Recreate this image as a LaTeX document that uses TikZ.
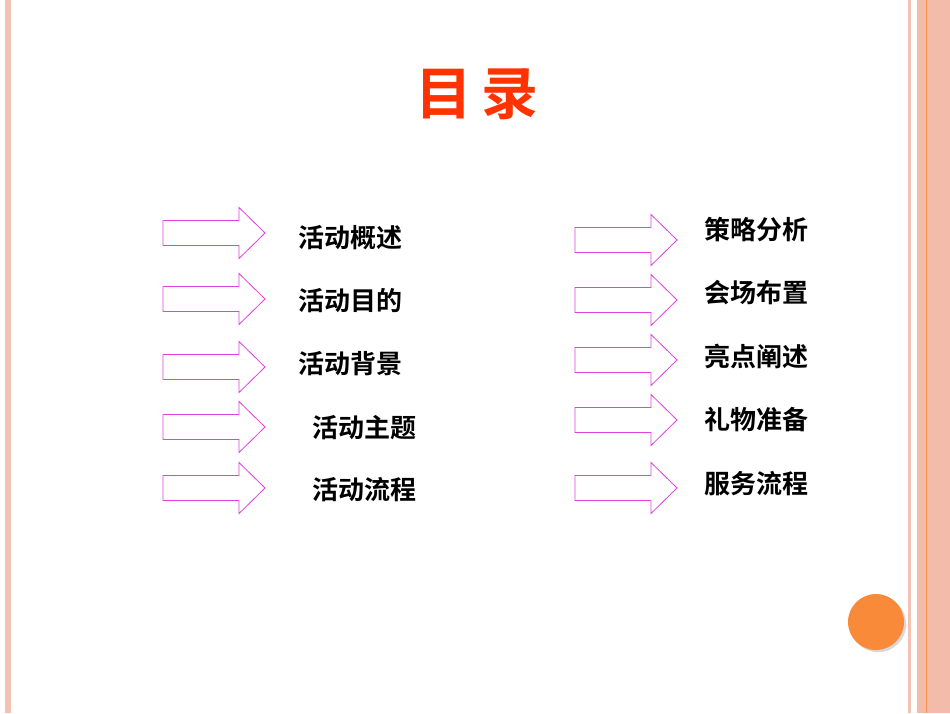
\documentclass[tikz,border=0pt]{standalone}
\usepackage{fontspec}
\newfontfamily\cjk{Noto Sans CJK SC Bold}
\usetikzlibrary{shadows}
\definecolor{stripe}{HTML}{F2BBAA}
\definecolor{mag}{HTML}{E040E0}
\definecolor{ttl}{HTML}{FF3300}
\definecolor{ball}{HTML}{F98A3A}
\tikzset{x=1pt,y=-1pt,
 arr/.style={draw=mag,line width=0.8pt,fill=white},
 lbl/.style={font=\cjk\fontsize{26}{28}\selectfont,anchor=west,inner sep=0}}
\newcommand\myarrow[3]{% name, x, y
 \draw[arr] (#2,#3-12.5) -- ++(76,0) -- ++(0,-13) -- (#2+102,#3) -- (#2+76,#3+25.5) -- ++(0,-13) -- (#2,#3+12.5) -- cycle;
 \coordinate (#1) at (#2+102,#3);}
\begin{document}
\begin{tikzpicture}
\useasboundingbox (0,0) rectangle (950,713);
\fill[white] (0,0) rectangle (950,713);
\fill[stripe!90] (5,0) rectangle (11,713);
\fill[stripe!90] (908,0) rectangle (911,713);
\fill[stripe] (917,0) rectangle (950,713);
\draw[ball!80!stripe,line width=0.8pt] (926,0) -- (926,713);
\node[font=\cjk\fontsize{57}{60}\selectfont,text=ttl] (title) at (477,94) {目\,录};
\foreach \y in {233,299,367,427,488}{\myarrow{la\y}{163}{\y}}
\foreach \y/\t/\dx [count=\i] in {238/活动概述/0,301/活动目的/0,364/活动背景/0,428/活动主题/14,490/活动流程/14}{
 \node[lbl] (lt\i) at (298+\dx,\y) {\t};
}
\foreach \y in {240,300,360,420,488}{\myarrow{ra\y}{575}{\y}}
\foreach \y/\t [count=\i] in {230/策略分析,293/会场布置,356/亮点阐述,420/礼物准备,484/服务流程}{
 \node[lbl] (rt\i) at (704,\y) {\t};
}
\node[circle,fill=ball,minimum size=56pt,drop shadow={opacity=0.3}] (dot) at (876,622) {};
\end{tikzpicture}
\end{document}
